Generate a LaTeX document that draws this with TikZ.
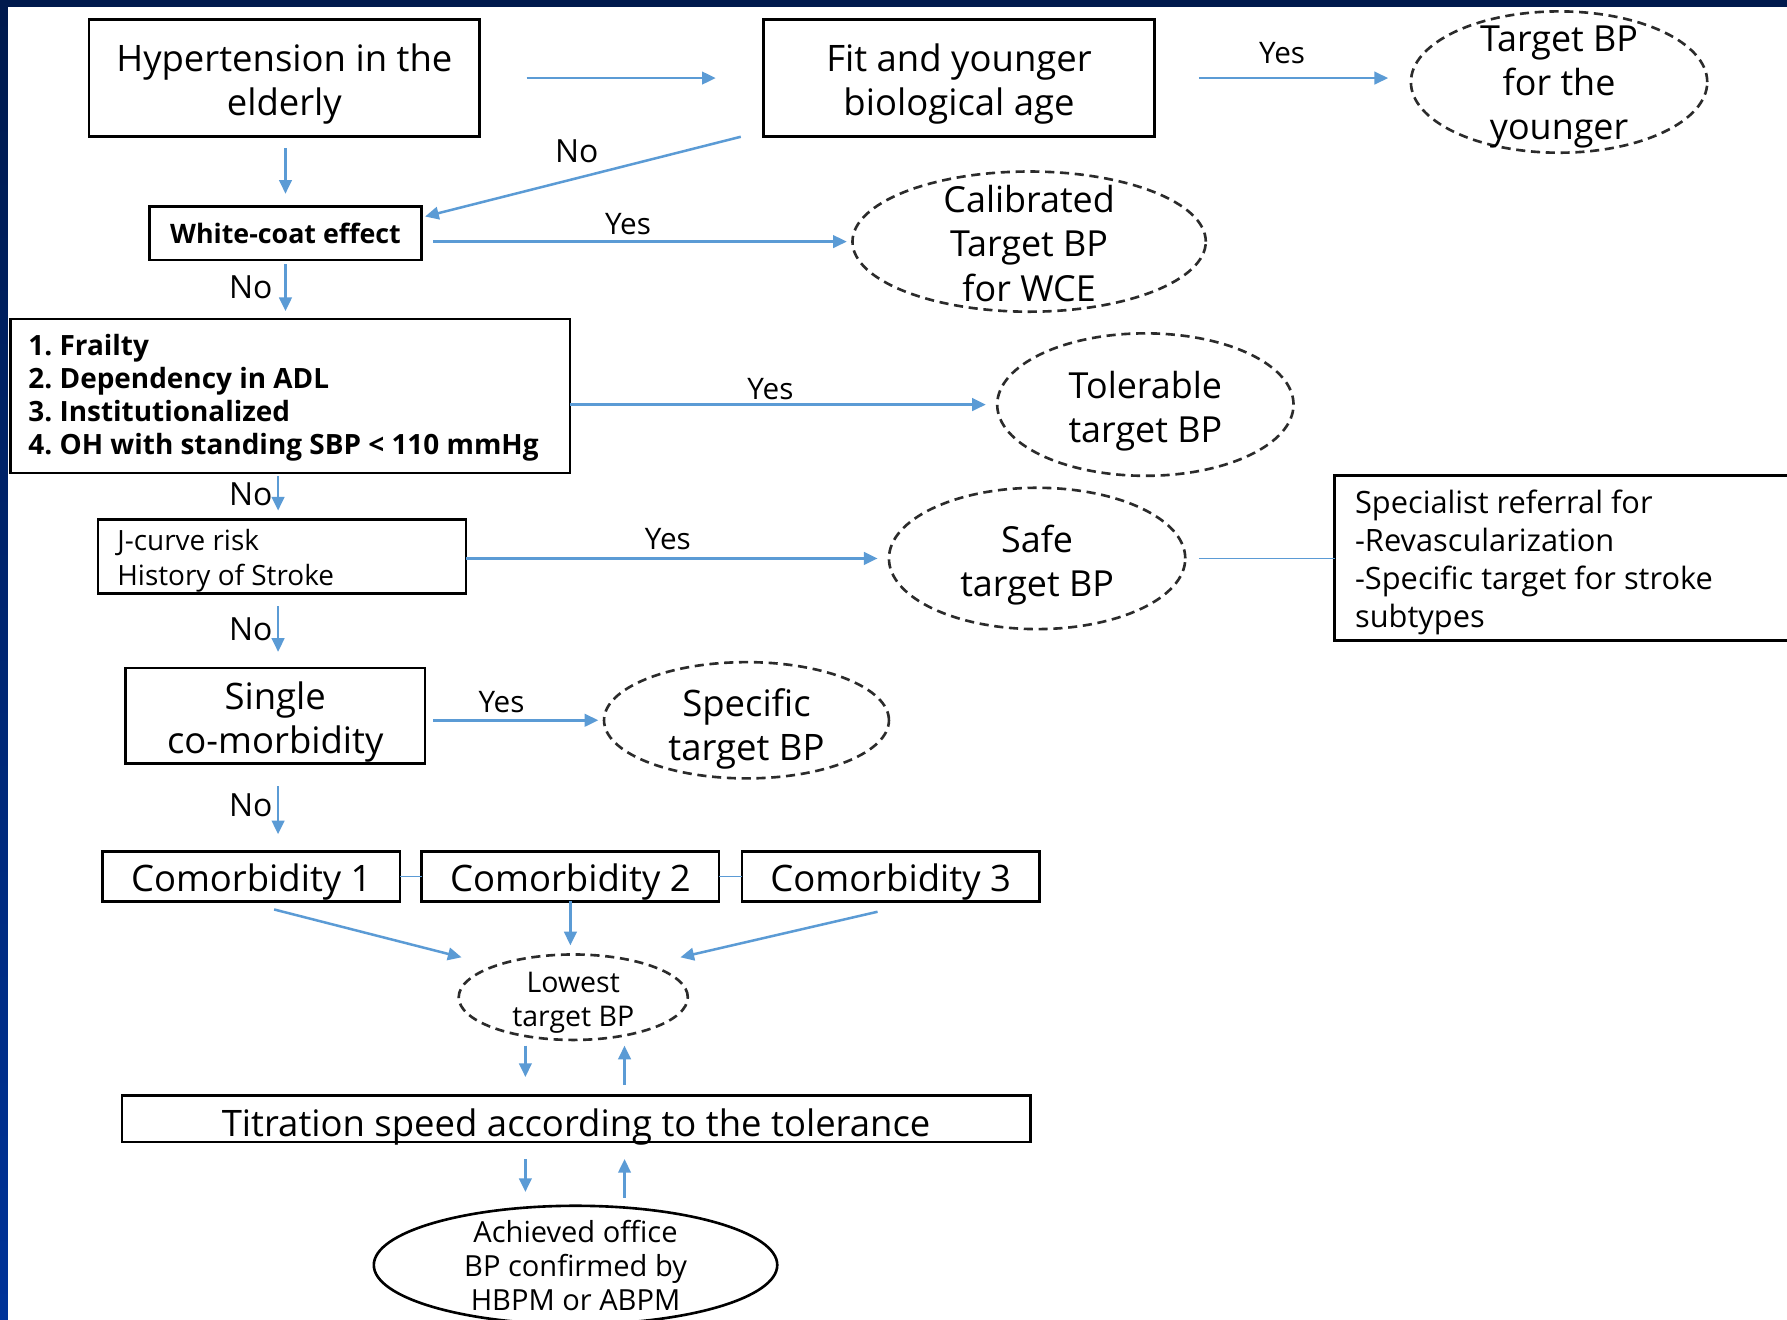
\documentclass[tikz,border=0pt]{standalone}
\usepackage{fontspec}
\setmainfont{Open Sans}
\usetikzlibrary{arrows.meta,shapes.geometric,calc}
\definecolor{arrowblue}{HTML}{5B9BD5}
\definecolor{navyband}{HTML}{001A4D}
\definecolor{blueband}{HTML}{003399}
\definecolor{dashgray}{HTML}{2B2B2B}
\frenchspacing
\newcommand\fs[2]{\fontsize{#1}{#2}\selectfont}
\newcommand\ctext[2][4pt]{\smash{\raisebox{\dimexpr-0.25em-#1\relax}{\begin{tabular}[c]{@{}c@{}}#2\end{tabular}}}}
\newcommand\ltext[3][4pt]{\smash{\raisebox{\dimexpr-0.25em-#1\relax}{\begin{tabular}[c]{@{}p{#2}@{}}#3\end{tabular}}}}
\begin{document}
\begin{tikzpicture}[x=1pt,y=-1pt,
  box/.style={draw=black, line width=2.3pt, inner sep=0pt, outer sep=0pt},
  ell/.style={ellipse, draw=dashgray, dash pattern=on 8pt off 5pt, line width=2.3pt, inner sep=0pt, outer sep=0pt},
  arr/.style={draw=arrowblue, line width=2.2pt, -{Triangle[length=12pt,width=11pt]}},
  plain/.style={draw=arrowblue, line width=1.6pt},
  lbl/.style={inner sep=0pt, font=\fs{26}{30}},
  nolbl/.style={inner sep=0pt, font=\fs{28}{32}}]
\useasboundingbox (0,0) rectangle (1568,1158);
\clip (0,0) rectangle (1568,1158);
\fill[white] (0,0) rectangle (1568,1158);
\fill[navyband] (0,0) rectangle (1568,6.5);
\shade[top color=navyband, bottom color=blueband] (0,0) rectangle (7,1158);

% boxes
\node[box, minimum width=343pt, minimum height=103pt, font=\fs{32}{39}] (hyp) at (249.5,68.5) {\ctext[4pt]{Hypertension in the\\elderly}};
\node[box, minimum width=343pt, minimum height=103pt, font=\fs{32}{39}] (fit) at (841.5,68.5) {\ctext[4pt]{Fit and younger\\biological age}};
\node[box, minimum width=239pt, minimum height=47pt, font=\bfseries\fs{23.5}{26}] (wce) at (250.5,204.5) {\ctext[4pt]{White-coat effect}};
\node[box, minimum width=491pt, minimum height=135pt, font=\bfseries\fs{24.5}{29}] (frail) at (254.5,347.5) {\ltext[2pt]{459pt}{1. Frailty\\2. Dependency in ADL\\3. Institutionalized\\4. OH with standing SBP < 110 mmHg}};
\node[box, minimum width=323pt, minimum height=65pt, font=\fs{24.5}{31}] (jc) at (247.5,488.5) {\ltext[4pt]{289pt}{J-curve risk\\History of Stroke}};
\node[box, minimum width=429pt, minimum height=145pt, font=\fs{27}{33.5}] (sref) at (1385.5,489.5) {\ltext[4pt]{393pt}{Specialist referral for\\-Revascularization\\-Specific target for stroke\\subtypes}};
\node[box, minimum width=263pt, minimum height=84pt, font=\fs{32}{39}] (single) at (241.5,628) {\ctext[4.5pt]{Single\\co-morbidity}};
\node[box, minimum width=261pt, minimum height=44pt, font=\fs{32}{36}] (c1) at (220.5,769) {\ctext[4pt]{Comorbidity 1}};
\node[box, minimum width=261pt, minimum height=44pt, font=\fs{32}{36}] (c2) at (500.5,769) {\ctext[4pt]{Comorbidity 2}};
\node[box, minimum width=261pt, minimum height=44pt, font=\fs{32}{36}] (c3) at (781.5,769) {\ctext[4pt]{Comorbidity 3}};
\node[box, minimum width=797pt, minimum height=41pt, font=\fs{32}{36}] (tit) at (505.5,981.5) {\ctext[7pt]{Titration speed according to the tolerance}};

% ellipses
\node[ell, minimum width=260pt, minimum height=124pt, font=\fs{31.5}{38.5}] (tbp) at (1368,72) {\ctext[2.5pt]{Target BP\\for the\\younger}};
\node[ell, minimum width=310pt, minimum height=123pt, font=\fs{31.5}{39}] (cal) at (903,212) {\ctext[4pt]{Calibrated\\Target BP\\for WCE}};
\node[ell, minimum width=260pt, minimum height=125pt, font=\fs{31.5}{39}] (tol) at (1005,355) {\ctext[4.5pt]{Tolerable\\target BP}};
\node[ell, minimum width=260pt, minimum height=124pt, font=\fs{31.5}{39}] (safe) at (910,490) {\ctext[4.5pt]{Safe\\target BP}};
\node[ell, minimum width=250pt, minimum height=102pt, font=\fs{32}{39}] (spc) at (655,632) {\ctext[6.5pt]{Specific\\target BP}};
\node[ell, minimum width=201pt, minimum height=75pt, font=\fs{25}{30}] (low) at (503,875) {\ctext[5pt]{Lowest\\target BP}};
\node[ellipse, draw=black, line width=2.3pt, inner sep=0pt, minimum width=354pt, minimum height=104pt, font=\fs{25.5}{30}] (ach) at (505,1110) {\ctext[4pt]{Achieved office\\BP confirmed by\\HBPM or ABPM}};

% labels
\node[lbl] (yes1) at (1125,47) {Yes};
\node[lbl] (yes2) at (551,197) {Yes};
\node[lbl] (yes3) at (676,341) {Yes};
\node[lbl] (yes4) at (586,473) {Yes};
\node[lbl] (yes5) at (440,616) {Yes};
\node[nolbl] (no0) at (506,133) {No};
\node[nolbl] (no1) at (220,252) {No};
\node[nolbl] (no2) at (220,434) {No};
\node[nolbl] (no3) at (220,552) {No};
\node[nolbl] (no4) at (220,707) {No};

% connectors
\draw[arr, shorten <=41pt, shorten >=42pt] (hyp.east) -- (fit.west);
\draw[arr, shorten <=39pt, shorten >=20pt] (fit.east) -- (fit.east -| tbp.west);
\draw[arr] ([shift={(-20,0)}]fit.south west) -- ([shift={(3,9)}]wce.north east);
\draw[arr, shorten <=10pt, shorten >=11pt] (wce.north |- hyp.south) -- (wce.north);
\draw[arr, shorten <=10pt, shorten >=5pt] (wce.east |- cal.west) -- (cal.west);
\draw[arr, shorten <=4pt, shorten >=7pt] (wce.south) -- (wce.south |- frail.north);
\draw[arr, shorten >=10pt] (frail.east |- tol.west) -- (tol.west);
\draw[arr, shorten <=3pt, shorten >=8pt] ([xshift=-3.5pt]jc.north |- frail.south) -- ([xshift=-3.5pt]jc.north);
\draw[arr, shorten >=10pt] (jc.east |- safe.west) -- (safe.west);
\draw[plain, shorten <=12pt] (safe.east) -- (safe.east -| sref.west);
\draw[arr, shorten <=11pt, shorten >=14pt] ([xshift=-3.5pt]jc.south) -- ([xshift=-3.5pt]jc.south |- single.north);
\draw[arr, shorten <=7pt, shorten >=5pt] (single.east |- spc.west) -- (spc.west);
\draw[arr, shorten <=20pt, shorten >=15pt] ([xshift=2.5pt]single.south) -- ([xshift=2.5pt]single.south |- c1.north);
\draw[plain] (c1.east) -- (c2.west);
\draw[plain] (c2.east) -- (c3.west);
\draw[arr] ([shift={(20,7)}]c1.south) -- ([shift={(-98,-35)}]low.center);
\draw[arr, shorten >=8pt] (c2.south) -- (c2.south |- low.north);
\draw[arr] ([shift={(-11.5,9)}]c3.south) -- ([shift={(94,-35)}]low.center);
\draw[arr] ([shift={(-42,5)}]low.south) -- ([shift={(-44.5,-16)}]tit.north);
\draw[arr] ([shift={(42.5,-9)}]tit.north) -- ([shift={(45,5)}]low.south);
\draw[arr] ([shift={(-44.5,15)}]tit.south) -- ([shift={(-44,-11)}]ach.north);
\draw[arr] ([shift={(43,-6)}]ach.north) -- ([shift={(42.5,15)}]tit.south);
\end{tikzpicture}
\end{document}
